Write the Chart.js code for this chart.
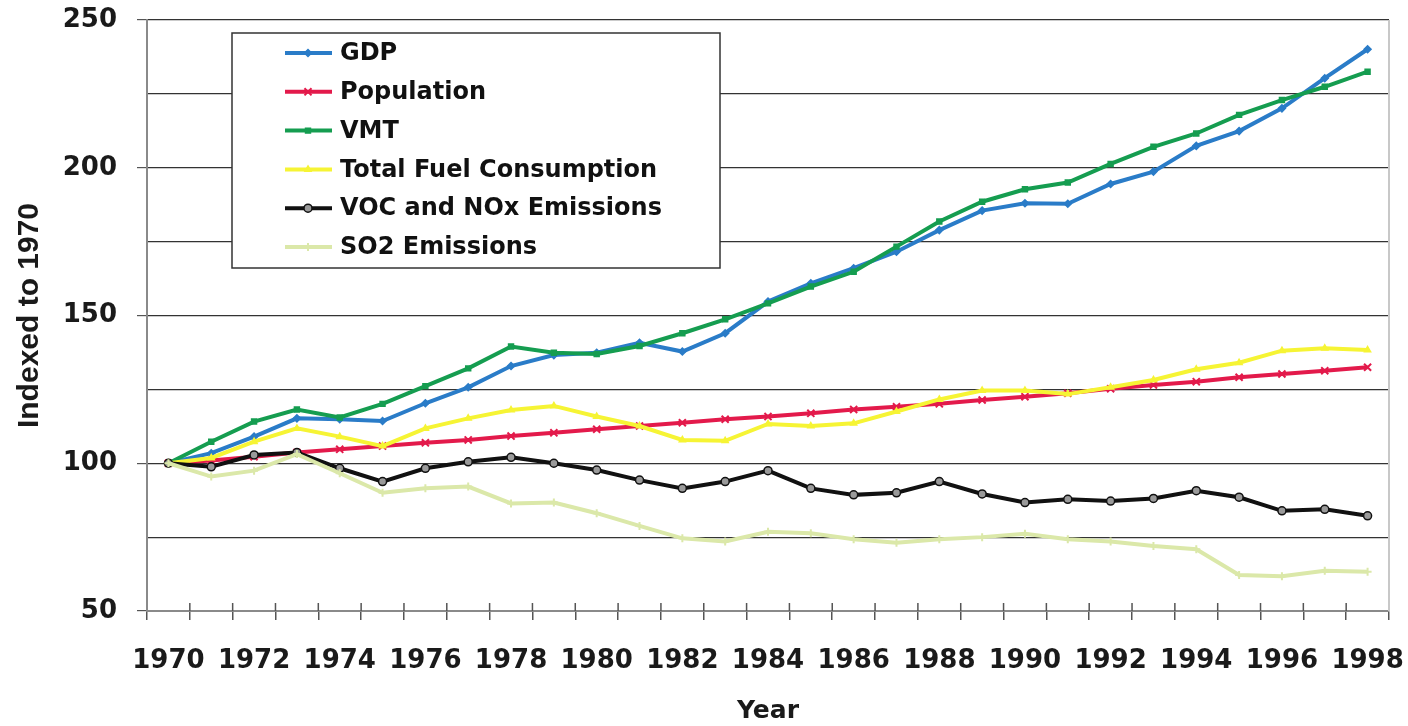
<!DOCTYPE html>
<html>
<head>
<meta charset="utf-8">
<title>Indexed to 1970</title>
<script src="https://cdn.jsdelivr.net/npm/chart.js@4.4.1/dist/chart.umd.min.js"></script>
<style>
    html, body { margin: 0; padding: 0; background: #fff; }
    #chart { display: block; }
</style>
</head>
<body>
<canvas id="chart" width="1408" height="726"></canvas>
<script>
// Data (index, 1970 = 100)
const years = ['1970', '1971', '1972', '1973', '1974', '1975', '1976', '1977', '1978', '1979',
    '1980', '1981', '1982', '1983', '1984', '1985', '1986', '1987', '1988', '1989',
    '1990', '1991', '1992', '1993', '1994', '1995', '1996', '1997', '1998'];

const gdp = [100, 103.4, 109.0, 115.2, 114.9, 114.3, 120.3, 125.7, 132.9, 136.6,
    137.4, 140.8, 137.8, 144.0, 154.7, 160.9, 166.0, 171.6, 178.9, 185.5,
    188.0, 187.8, 194.5, 198.7, 207.4, 212.4, 220.1, 230.3, 240.1];

const population = [100, 100.9, 102.2, 103.6, 104.7, 105.8, 106.9, 107.9, 109.2, 110.3,
    111.5, 112.6, 113.7, 114.9, 115.8, 116.9, 118.2, 119.1, 120.1, 121.4,
    122.5, 123.7, 125.2, 126.5, 127.6, 129.1, 130.2, 131.3, 132.5];

const vmt = [100, 107.3, 114.1, 118.2, 115.5, 120.1, 126.1, 132.1, 139.5, 137.4,
    137.0, 139.7, 144.0, 148.7, 154.1, 159.8, 164.8, 173.3, 181.8, 188.5,
    192.7, 195.0, 201.3, 207.1, 211.6, 217.9, 222.9, 227.4, 232.5];

const fuel = [100, 101.8, 107.3, 111.8, 109.0, 105.8, 111.8, 115.2, 118.0, 119.4,
    115.8, 112.6, 107.9, 107.6, 113.3, 112.6, 113.5, 117.5, 121.6, 124.6,
    124.6, 123.4, 125.7, 128.2, 131.8, 134.0, 138.1, 138.9, 138.3];

const vocNox = [100, 98.8, 102.8, 103.6, 98.3, 93.8, 98.3, 100.5, 102.0, 100.0,
    97.7, 94.3, 91.5, 93.8, 97.5, 91.5, 89.3, 90.0, 93.8, 89.6,
    86.7, 87.8, 87.2, 88.1, 90.7, 88.5, 83.9, 84.4, 82.2];

const so2 = [100, 95.5, 97.5, 103.1, 96.6, 90.0, 91.5, 92.1, 86.4, 86.7,
    83.1, 78.8, 74.6, 73.5, 76.8, 76.3, 74.3, 73.1, 74.3, 75.0,
    76.1, 74.3, 73.5, 72.0, 70.9, 62.2, 61.8, 63.6, 63.3];

const yTickLabels = [50, 100, 150, 200, 250];

const tickFont = { family: 'DejaVu Sans', weight: 'bold', size: 26 };

function series(label, data, color, pointStyle, order, extra) {
    return Object.assign({
        label: label,
        data: data,
        borderColor: color,
        backgroundColor: color,
        borderWidth: 4,
        pointStyle: pointStyle,
        pointRadius: 3.5,
        pointBorderWidth: 1.5,
        pointBorderColor: color,
        pointBackgroundColor: color,
        tension: 0,
        order: order
    }, extra || {});
}

const datasets = [
    series('GDP', gdp, '#2a7cc8', 'rectRot', 6),
    series('Population', population, '#e31a4b', 'crossRot', 5, { pointRadius: 5, pointBorderWidth: 2 }),
    series('VMT', vmt, '#159d50', 'rect', 4),
    series('Total Fuel Consumption', fuel, '#f6f434', 'triangle', 3),
    series('VOC and NOx Emissions', vocNox, '#111111', 'circle', 2, { pointBackgroundColor: '#9a9a9a', pointRadius: 4 }),
    series('SO2 Emissions', so2, '#dbe8a9', 'cross', 1, { pointRadius: 4, pointBorderWidth: 2 })
];

// legend box drawn inside the plot, plus the light right border and inner x ticks
const boxLegend = {
    id: 'boxLegend',
    beforeDatasetsDraw(chart) {
        const ctx = chart.ctx;
        const area = chart.chartArea;
        const xScale = chart.scales.x;

        ctx.save();
        ctx.strokeStyle = '#c8c8c8';
        ctx.lineWidth = 2;
        ctx.beginPath();
        ctx.moveTo(area.right, area.top);
        ctx.lineTo(area.right, area.bottom);
        ctx.stroke();

        // short tick stubs above the x axis, between the years
        ctx.strokeStyle = '#555555';
        ctx.lineWidth = 1.5;
        ctx.beginPath();
        for (let i = 1; i < years.length; i++) {
            const x = (xScale.getPixelForValue(i - 1) + xScale.getPixelForValue(i)) / 2;
            ctx.moveTo(x, area.bottom);
            ctx.lineTo(x, area.bottom - 8);
        }
        ctx.stroke();

        const x0 = area.left + 85;
        const y0 = area.top + 13;
        const w = 488;
        const h = 235;
        ctx.fillStyle = '#ffffff';
        ctx.fillRect(x0, y0, w, h);
        ctx.strokeStyle = '#333333';
        ctx.lineWidth = 1.5;
        ctx.strokeRect(x0, y0, w, h);

        ctx.font = 'bold 24px "DejaVu Sans"';
        ctx.textBaseline = 'middle';
        chart.data.datasets.forEach((ds, i) => {
            const y = y0 + 20 + i * 38.8;
            ctx.strokeStyle = ds.borderColor;
            ctx.lineWidth = 4;
            ctx.beginPath();
            ctx.moveTo(x0 + 53, y);
            ctx.lineTo(x0 + 100, y);
            ctx.stroke();

            ctx.fillStyle = ds.pointBackgroundColor;
            ctx.strokeStyle = ds.pointBorderColor;
            ctx.lineWidth = ds.pointBorderWidth;
            Chart.helpers.drawPoint(ctx, {
                pointStyle: ds.pointStyle,
                radius: ds.pointRadius,
                borderWidth: ds.pointBorderWidth,
                rotation: 0
            }, x0 + 76, y);

            ctx.fillStyle = '#111111';
            ctx.fillText(ds.label, x0 + 108, y + 1);
        });
        ctx.restore();
    }
};

new Chart(document.getElementById('chart').getContext('2d'), {
    type: 'line',
    data: {
        labels: years,
        datasets: datasets
    },
    options: {
        responsive: false,
        animation: false,
        layout: {
            padding: { top: 20, right: 19, left: 0, bottom: 0 }
        },
        plugins: {
            legend: { display: false },
            tooltip: { enabled: false }
        },
        scales: {
            x: {
                offset: true,
                grid: {
                    offset: true,
                    drawOnChartArea: false,
                    color: '#555555',
                    tickLength: 9,
                    lineWidth: 1.5
                },
                border: { color: '#8a8a8a', width: 2 },
                ticks: {
                    autoSkip: false,
                    maxRotation: 0,
                    padding: 26,
                    color: '#1a1a1a',
                    font: tickFont,
                    callback: function(value, index) {
                        return index % 2 === 0 ? this.getLabelForValue(value) : '';
                    }
                },
                title: {
                    display: true,
                    text: 'Year',
                    color: '#1a1a1a',
                    font: { family: 'DejaVu Sans', weight: 'bold', size: 25 },
                    padding: { top: 0, bottom: 0 }
                },
                afterFit: function(scale) {
                    scale.height = 115;
                    scale.paddingLeft = 0;
                    scale.paddingRight = 0;
                }
            },
            y: {
                min: 50,
                max: 250,
                grid: {
                    color: '#333333',
                    lineWidth: 1.2,
                    tickLength: 10,
                    tickColor: function(c) {
                        return c.tick && yTickLabels.includes(c.tick.value) ? '#555555' : 'rgba(0,0,0,0)';
                    }
                },
                border: { color: '#8a8a8a', width: 2 },
                ticks: {
                    stepSize: 25,
                    padding: 20,
                    color: '#1a1a1a',
                    font: tickFont,
                    callback: function(value) {
                        return yTickLabels.includes(value) ? value : '';
                    }
                },
                title: {
                    display: true,
                    text: 'Indexed to 1970',
                    color: '#1a1a1a',
                    font: { family: '"Liberation Sans"', weight: 'bold', size: 30 },
                    padding: { top: 12, bottom: 0 }
                },
                afterFit: function(scale) {
                    scale.width = 147;
                    scale.paddingTop = 0;
                    scale.paddingBottom = 0;
                }
            }
        }
    },
    plugins: [boxLegend]
});
</script>
</body>
</html>
